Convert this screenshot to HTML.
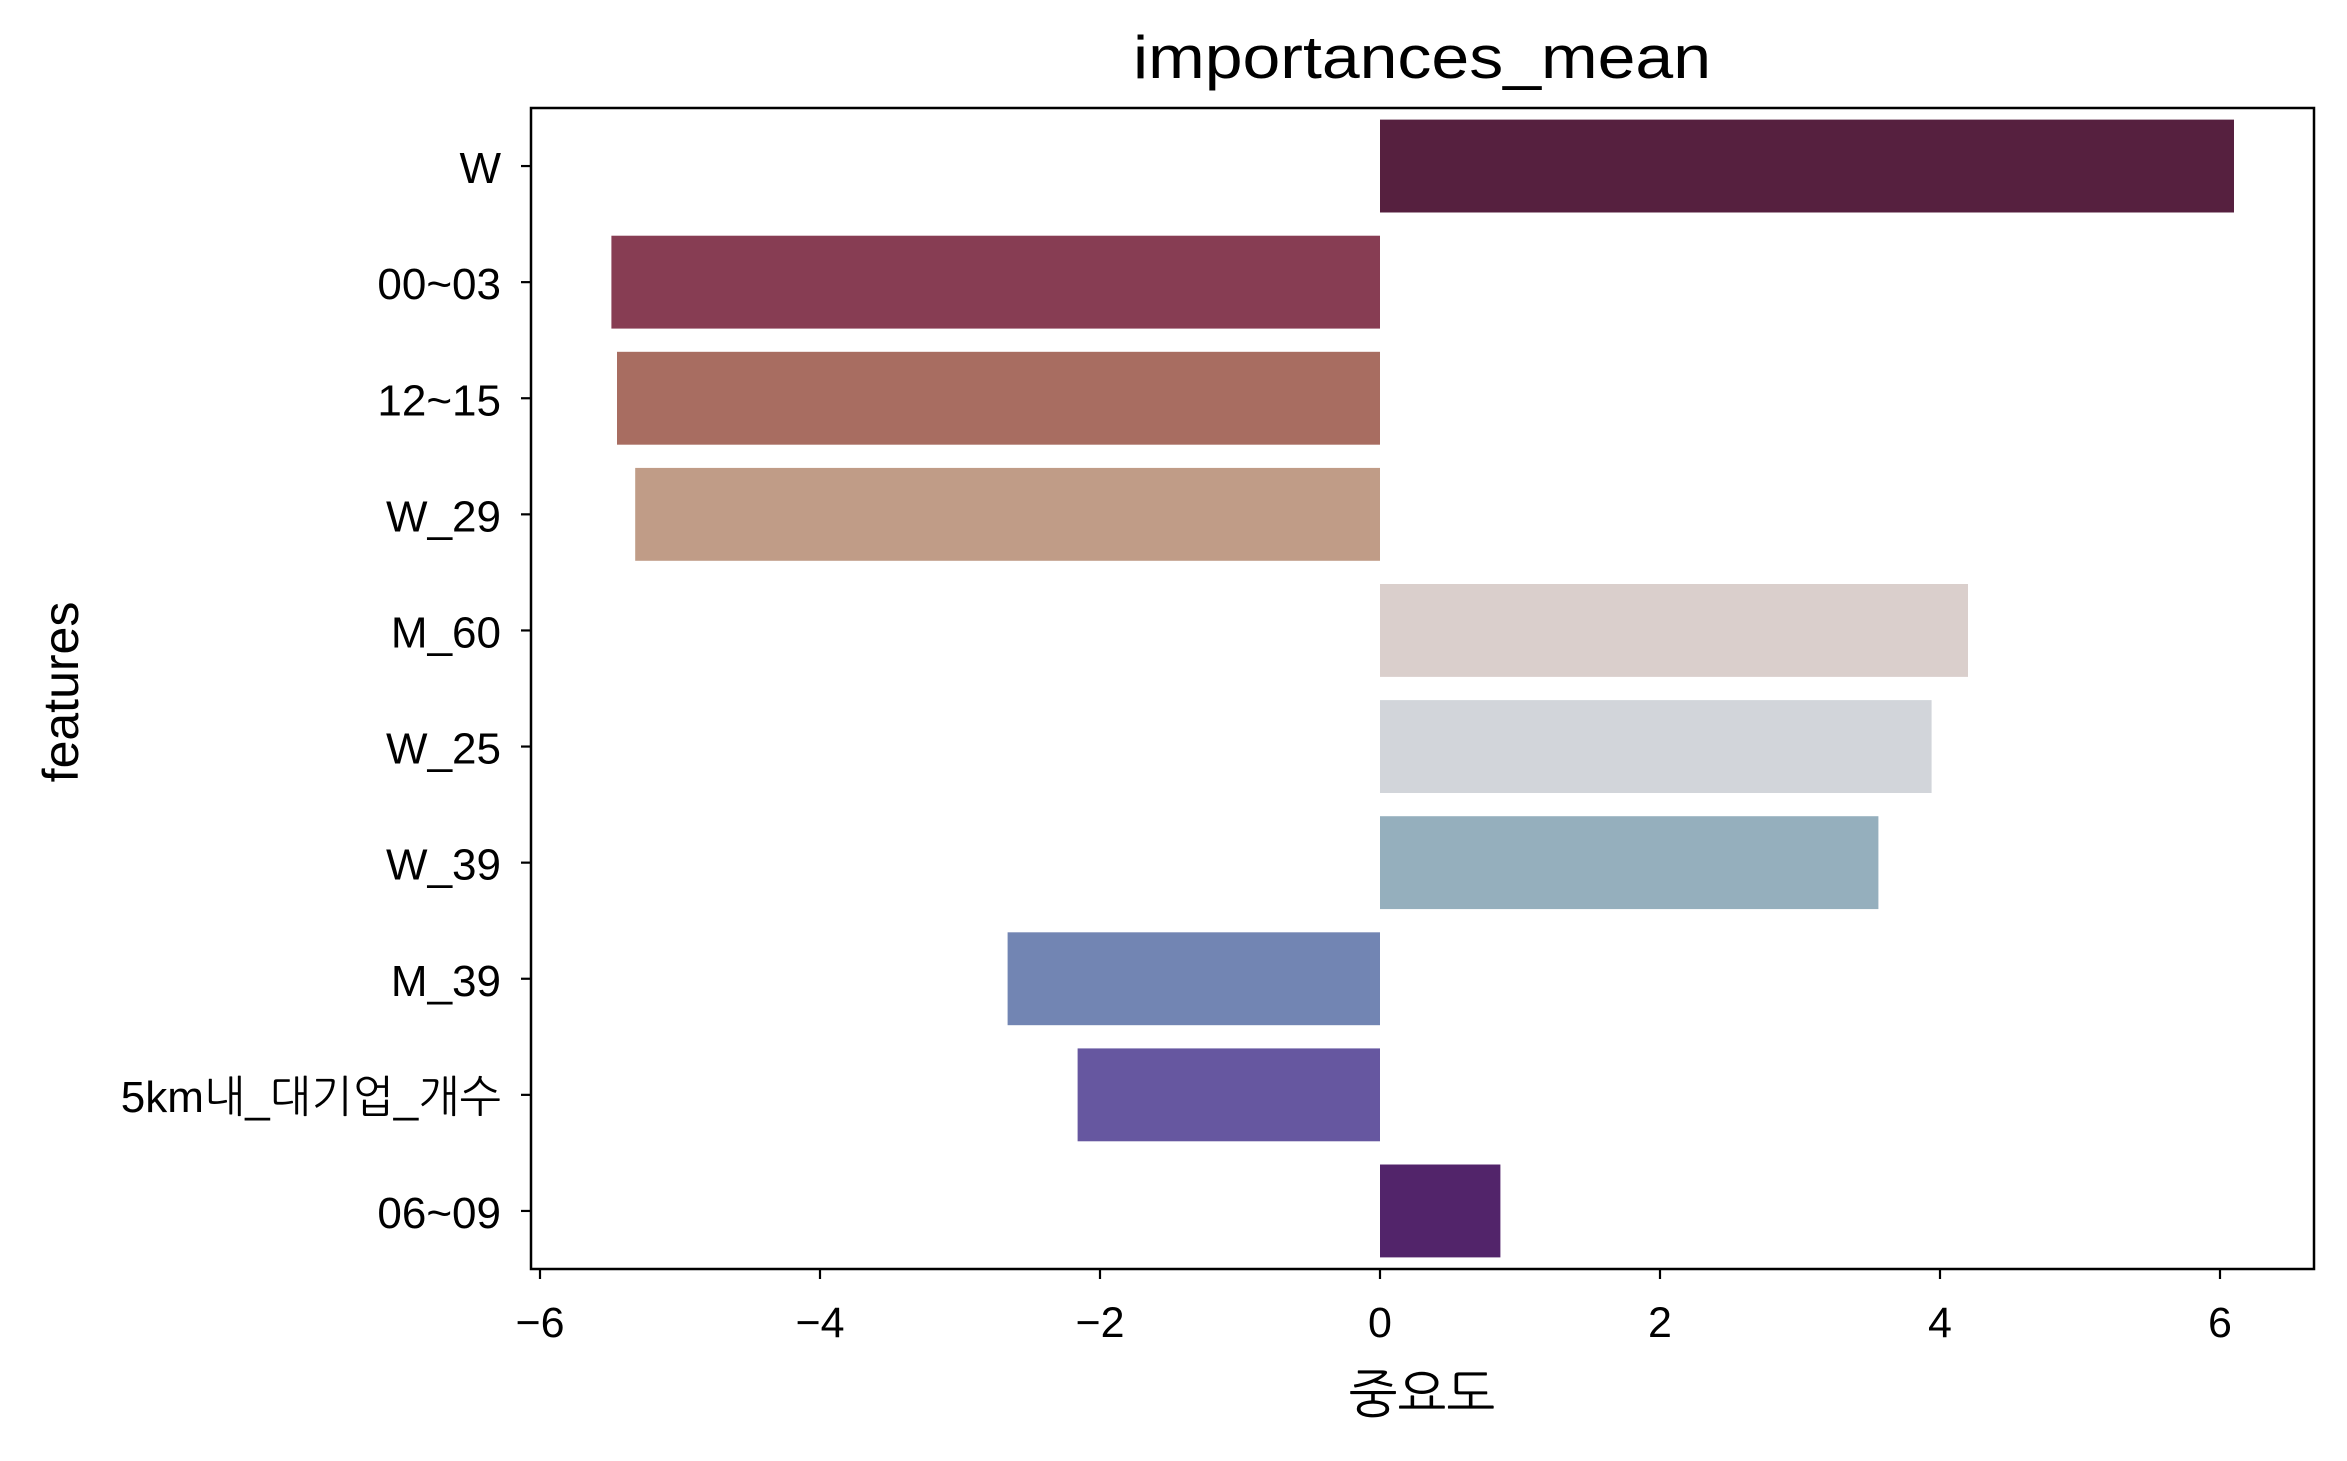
<!DOCTYPE html>
<html><head><meta charset="utf-8"><style>
html,body{margin:0;padding:0;background:#fff;}
svg text{font-family:"Liberation Sans","NanumGothic","Noto Sans CJK KR",sans-serif;fill:#000;}
</style></head><body>
<svg id="chart" width="2347" height="1456" viewBox="0 0 2347 1456" xmlns="http://www.w3.org/2000/svg">
<rect width="2347" height="1456" fill="#fff"/>
<text x="1422" y="78" font-size="60" text-anchor="middle" textLength="578" lengthAdjust="spacingAndGlyphs">importances_mean</text>
<g id="bars"></g>
<g id="ticks"></g>
<rect x="531" y="108" width="1783" height="1161" fill="none" stroke="#000" stroke-width="2.5"/>
<text x="1422" y="1412" font-size="52" text-anchor="middle">중요도</text>
<text x="0" y="0" font-size="50" text-anchor="middle" transform="translate(78,692) rotate(-90)">features</text>
</svg>
<script>
const categories = ["W","00~03","12~15","W_29","M_60","W_25","W_39","M_39","5km내_대기업_개수","06~09"];
const values = [6.10,-5.49,-5.45,-5.32,4.20,3.94,3.56,-2.66,-2.16,0.86];
const colors = ["#56203f","#873d53","#a86d61","#c09c87","#dacfcc","#d2d5da","#95afbd","#7285b3","#6657a0","#52246a"];
const xTicks = [-6,-4,-2,0,2,4,6];
const xTickLabels = ["−6","−4","−2","0","2","4","6"];

const NS="http://www.w3.org/2000/svg";
const L=531,R=2314,T=108,B=1269;
const x0=1380, pxPerUnit=140;
function xs(v){return x0+v*pxPerUnit;}
const band=(B-T)/categories.length;
function yc(i){return T+band*(i+0.5);}
const gb=document.getElementById('bars'), gt=document.getElementById('ticks');
function mk(tag,attrs,parent){const e=document.createElementNS(NS,tag);for(const k in attrs)e.setAttribute(k,attrs[k]);parent.appendChild(e);return e;}
categories.forEach((c,i)=>{
  const v=values[i], h=band*0.8;
  const r=mk('rect',{x:Math.min(xs(0),xs(v)),y:yc(i)-h/2,width:Math.abs(xs(v)-xs(0)),height:h,fill:colors[i]},gb);
  
  
  const tk=mk('line',{x1:L-10,x2:L,y1:yc(i),y2:yc(i),stroke:'#000','stroke-width':2.2},gt);
  
  
  const t=mk('text',{x:L-30,y:yc(i)+17,'font-size':44,'text-anchor':'end'},gt);
  t.textContent=c;
  
  
});
xTicks.forEach((v,i)=>{
  const tk=mk('line',{x1:xs(v),x2:xs(v),y1:B,y2:B+10,stroke:'#000','stroke-width':2.2},gt);
  
  
  const t=mk('text',{x:xs(v),y:1337,'font-size':43,'text-anchor':'middle'},gt);
  t.textContent=xTickLabels[i];
  
  
});
</script>
</body></html>
